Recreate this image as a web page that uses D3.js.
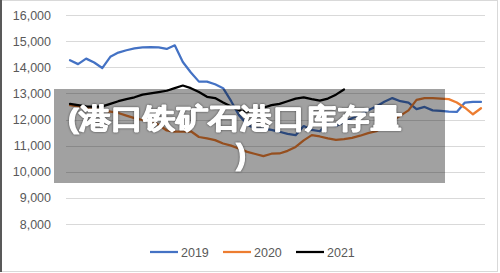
<!DOCTYPE html>
<html>
<head>
<meta charset="utf-8">
<script src="https://cdn.jsdelivr.net/npm/d3@7"></script>
<style>
  body { margin: 0; background: #fff; }
  text { font-family: "Liberation Sans", "DejaVu Sans", sans-serif; }
</style>
</head>
<body>
<div id="chart"></div>
<script>
// weekly values
var s2019 = [14270, 14120, 14330, 14180, 13970, 14400, 14560, 14650, 14720, 14760,
  14770, 14760, 14700, 14840, 14200, 13800, 13450, 13450, 13350, 13200,
  12700, 12150, 11800, 11650, 11650, 11600, 11530, 11450, 11400, 11750,
  11600, 11550, 11850, 11750, 11900, 12050, 12200, 12350, 12500, 12680,
  12820, 12700, 12650, 12400, 12480, 12350, 12330, 12300, 12290, 12650,
  12670, 12670];
var s2020 = [12550, 12500, 12450, 12400, 12350, 12300, 12250, 12150, 12050, 11980,
  11950, 11800, 11580, 11540, 11540, 11550, 11330, 11280, 11210, 11080,
  11000, 10880, 10760, 10680, 10600, 10690, 10700, 10800, 10950, 11200,
  11400, 11350, 11280, 11220, 11250, 11300, 11380, 11480, 11550, 11750,
  11950, 12150, 12350, 12750, 12820, 12820, 12800, 12780, 12650, 12450,
  12200, 12430];
var s2021 = [12600, 12550, 12500, 12480, 12500, 12600, 12700, 12780, 12850, 12950,
  13000, 13050, 13100, 13200, 13300, 13200, 13050, 12870, 12820, 12650,
  12500, 12350, 12300, 12350, 12450, 12550, 12600, 12700, 12800, 12850,
  12780, 12720, 12800, 12950, 13150];
var seriesNames = ["2019", "2020", "2021"];
var seriesColors = ["#4472C4", "#ED7D31", "#000000"];
var yTicks = [8000, 9000, 10000, 11000, 12000, 13000, 14000, 15000, 16000];
var titleText = "(港口铁矿石港口库存量";

var width = 500, height = 273;

var svg = d3.select("#chart").append("svg")
    .attr("width", width)
    .attr("height", height);

// outer frame
svg.append("rect")
    .attr("x", 1.5).attr("y", 0.5)
    .attr("width", 496).attr("height", 271)
    .attr("fill", "#fff")
    .attr("stroke", "#d9d9d9");
svg.append("line")
    .attr("x1", 1).attr("x2", 1).attr("y1", 0).attr("y2", 272)
    .attr("stroke", "#595959").attr("stroke-width", 2);

var x = d3.scaleLinear().domain([0, 51]).range([70, 481]);
var y = d3.scaleLinear().domain([8000, 16000]).range([224, 15]);

// gridlines
svg.append("g")
  .selectAll("line")
  .data(yTicks)
  .enter().append("line")
    .attr("x1", 66).attr("x2", 485)
    .attr("y1", function(d) { return Math.round(y(d)) + 0.5; })
    .attr("y2", function(d) { return Math.round(y(d)) + 0.5; })
    .attr("stroke", "#d9d9d9")
    .attr("stroke-width", 1);

// y axis labels
var yAxis = d3.axisLeft(y)
    .tickValues(yTicks)
    .tickFormat(d3.format(","))
    .tickSize(0)
    .tickPadding(0);
var gy = svg.append("g")
    .attr("transform", "translate(51,0)")
    .call(yAxis);
gy.select(".domain").remove();
gy.selectAll("text")
    .attr("fill", "#595959")
    .style("font-size", "12.5px")
    .style("font-family", "'Liberation Sans', sans-serif");

// the lines
var line = d3.line()
    .x(function(d, i) { return x(i); })
    .y(function(d) { return y(d); });

[s2019, s2020, s2021].forEach(function(s, k) {
  svg.append("path")
      .datum(s)
      .attr("fill", "none")
      .attr("stroke", seriesColors[k])
      .attr("stroke-width", 2.25)
      .attr("stroke-linejoin", "round")
      .attr("stroke-linecap", "round")
      .attr("d", line);
});

// legend
var legend = svg.append("g")
  .selectAll("g")
  .data(seriesNames)
  .enter().append("g")
    .attr("transform", function(d, i) { return "translate(" + (150 + i * 73) + ",252)"; });
legend.append("line")
    .attr("x1", 0).attr("x2", 28)
    .attr("stroke", function(d, i) { return seriesColors[i]; })
    .attr("stroke-width", 2.25);
legend.append("text")
    .attr("x", 31)
    .attr("dy", "0.36em")
    .attr("fill", "#595959")
    .style("font-size", "12.5px")
    .text(function(d) { return d; });

// grey overlay box with title
svg.append("rect")
    .attr("x", 54).attr("y", 89)
    .attr("width", 391).attr("height", 94)
    .attr("fill", "#000")
    .attr("fill-opacity", 0.37);

var title = svg.append("g")
    .style("font-family", "'Noto Sans CJK SC', sans-serif")
    .style("font-weight", "900")
    .style("font-size", "28px")
    .attr("fill", "#fff")
    .attr("stroke", "#fff")
    .attr("stroke-width", 1.2)
    .attr("stroke-linejoin", "round")
    .attr("filter", "drop-shadow(0px 0px 1px rgba(0,0,0,0.6))");
title.append("text")
    .attr("x", 68).attr("y", 128)
    .attr("textLength", 334)
    .attr("lengthAdjust", "spacingAndGlyphs")
    .text(titleText);
title.append("text")
    .attr("x", 236).attr("y", 165)
    .style("font-size", "30px")
    .text(")");
</script>
</body>
</html>
